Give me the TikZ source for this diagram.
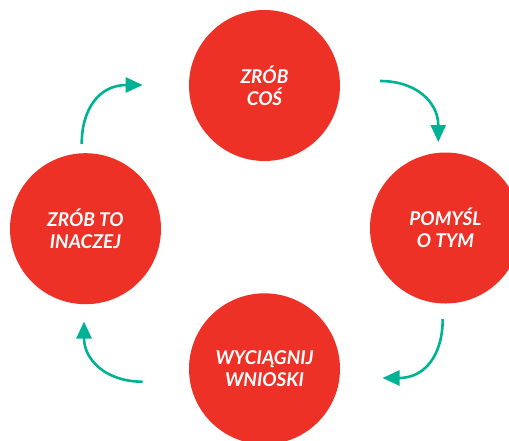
\documentclass[tikz,border=0pt]{standalone}
\usepackage{fontspec}
\setmainfont{Lato}
\usetikzlibrary{arrows.meta}
\definecolor{cred}{RGB}{238,49,38}
\definecolor{cteal}{RGB}{0,178,148}
\tikzset{
  stepcircle/.style={circle,fill=cred,draw=none,minimum size=151pt,inner sep=0pt,
    text=white,align=center,font=\fontsize{19}{22}\selectfont\bfseries\itshape},
  cyclearrow/.style={draw=cteal,line width=2.6pt,-{Triangle[length=17pt,width=15pt]}}
}
\begin{document}
\begin{tikzpicture}[x=1pt,y=-1pt]
\useasboundingbox (0,0) rectangle (509,440);
\begin{scope}
\clip (0,0) rectangle (509,440);
\node[stepcircle] (top) at (264.5,85.5) {ZRÓB\\COŚ};
\node[stepcircle] (right) at (445.5,228) {POMYŚL\\O TYM};
\node[stepcircle] (bottom) at (264.5,368.8) {WYCIĄGNIJ\\WNIOSKI};
\node[stepcircle] (left) at (85.5,228.7) {ZRÓB TO\\INACZEJ};
\end{scope}
\coordinate (a1s) at (380,81);
\coordinate (a1e) at (438.3,142);
\coordinate (a2s) at (442.7,319);
\coordinate (a2e) at (382.5,378);
\coordinate (a3s) at (142.7,381.7);
\coordinate (a3e) at (84,321.5);
\coordinate (a4s) at (81.7,144);
\coordinate (a4e) at (142.7,85);
\draw[cyclearrow] (a1s) .. controls (416,81) and (438.3,102) .. (a1e);
\draw[cyclearrow] (a2s) .. controls (442.7,355) and (425,378) .. (a2e);
\draw[cyclearrow] (a3s) .. controls (106,381.7) and (84,360) .. (a3e);
\draw[cyclearrow] (a4s) .. controls (81.7,108) and (100,85) .. (a4e);
\end{tikzpicture}
\end{document}
